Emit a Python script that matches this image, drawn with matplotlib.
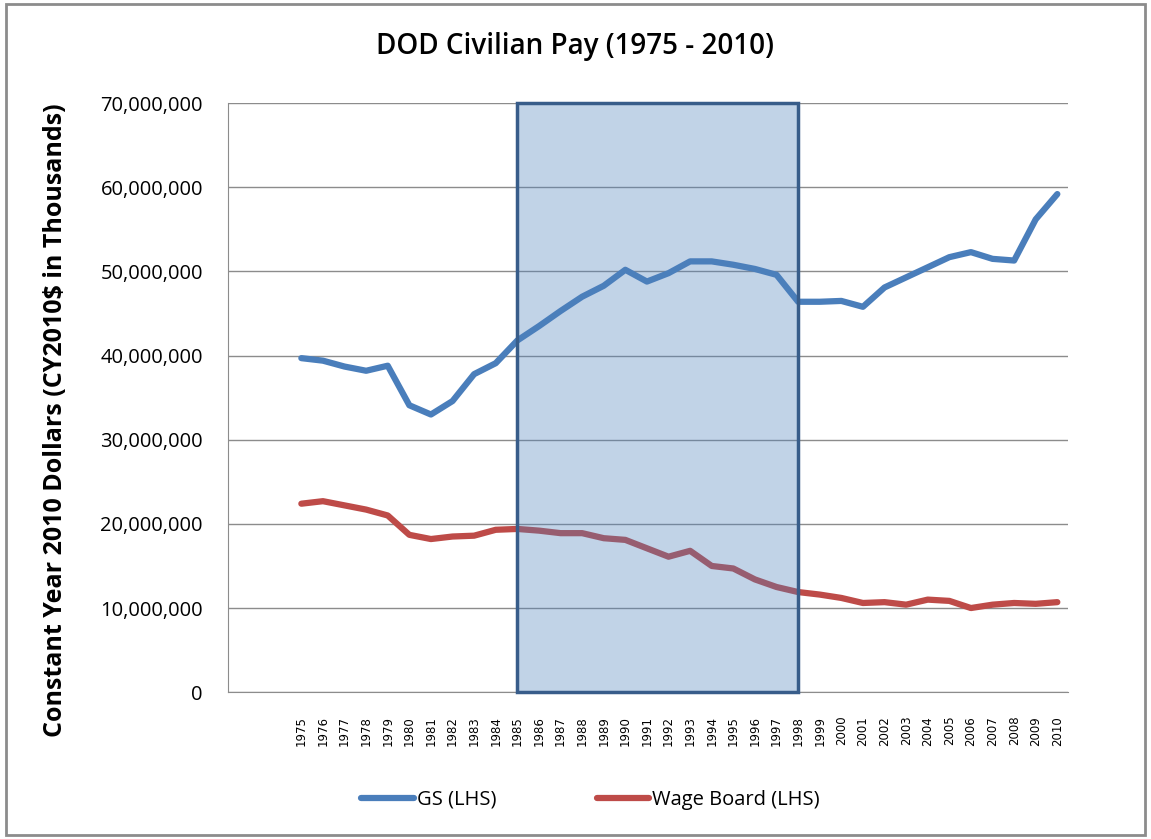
import numpy as np
import matplotlib
matplotlib.use("Agg")
import matplotlib.pyplot as plt
from matplotlib.patches import Rectangle
from matplotlib.ticker import FuncFormatter, MultipleLocator

years = list(range(1975, 2011))
gs = [39.7, 39.4, 38.7, 38.2, 38.8, 34.1, 33.0, 34.6, 37.8, 39.1,
      41.8, 43.5, 45.3, 47.0, 48.3, 50.2, 48.8, 49.8, 51.2, 51.2,
      50.8, 50.3, 49.6, 46.4, 46.4, 46.5, 45.8, 48.1, 49.3, 50.5,
      51.7, 52.3, 51.5, 51.3, 56.2, 59.2]
wage_board = [22.4, 22.7, 22.2, 21.7, 21.0, 18.7, 18.2, 18.5, 18.6, 19.3,
              19.4, 19.2, 18.9, 18.9, 18.3, 18.1, 17.1, 16.1, 16.8, 15.0,
              14.7, 13.4, 12.5, 11.9, 11.6, 11.2, 10.6, 10.7, 10.4, 11.0,
              10.85, 10.0, 10.4, 10.6, 10.5, 10.7]
highlight_years = (1985, 1998)
n_blank = 3  # empty categories ahead of 1975

gs = np.array(gs) * 1e6
wage_board = np.array(wage_board) * 1e6

blue = "#4a7ebb"
red = "#be4b48"
font = "Open Sans"

fig = plt.figure(figsize=(11.51, 8.39), dpi=100)
fig.patches.append(Rectangle((0.005, 0.005), 0.99, 0.99, transform=fig.transFigure,
                             fill=False, edgecolor="#8c8c8c", linewidth=2))
ax = fig.add_axes([0.198, 0.175, 0.730, 0.702])

x = np.arange(len(years))
ax.plot(x, gs, color=blue, linewidth=4.5, solid_capstyle="round",
        solid_joinstyle="round", label="GS (LHS)", zorder=3)
ax.plot(x, wage_board, color=red, linewidth=4.5, solid_capstyle="round",
        solid_joinstyle="round", label="Wage Board (LHS)", zorder=3)

# shaded period drawn over the lines, like the original
x0 = years.index(highlight_years[0])
x1 = years.index(highlight_years[1])
ax.add_patch(Rectangle((x0, 0), x1 - x0, 70e6, facecolor=(0.31, 0.506, 0.741, 0.35),
                       edgecolor="#385d8a", linewidth=2.5, zorder=4, clip_on=False))

ax.set_xlim(-n_blank - 0.4, len(years) - 0.5)
ax.set_ylim(0, 70e6)
ax.yaxis.set_major_locator(MultipleLocator(10e6))
ax.yaxis.set_major_formatter(FuncFormatter(lambda v, p: f"{v:,.0f}"))
ax.grid(axis="y", color="#8c8c8c", linewidth=1)
ax.set_axisbelow(True)

ax.set_xticks(x)
ax.set_xticklabels([str(y) for y in years], rotation=90, fontsize=8.5, family="DejaVu Sans")
ax.tick_params(axis="x", length=0, pad=17)
ax.tick_params(axis="y", length=0, pad=18, labelsize=14.5)
for lab in ax.get_yticklabels():
    lab.set_family(font)

for side in ["top", "right"]:
    ax.spines[side].set_visible(False)
ax.spines["left"].set_color("#8c8c8c")
ax.spines["bottom"].set_color("#8c8c8c")

ax.set_ylabel("Constant Year 2010 Dollars (CY2010$ in Thousands)", fontsize=18,
              fontweight="bold", family=font)
ax.yaxis.set_label_coords(-0.19, 0.462)
fig.suptitle("DOD Civilian Pay (1975 - 2010)", fontsize=20, family=font,
             fontweight="semibold", y=0.962)

fig.legend(loc="center", bbox_to_anchor=(0.513, 0.047), ncol=2, frameon=False,
           prop={"family": font, "size": 14.5}, handlelength=2.6, handletextpad=0.15,
           columnspacing=5.0)

fig.savefig("out.png", dpi=100)
